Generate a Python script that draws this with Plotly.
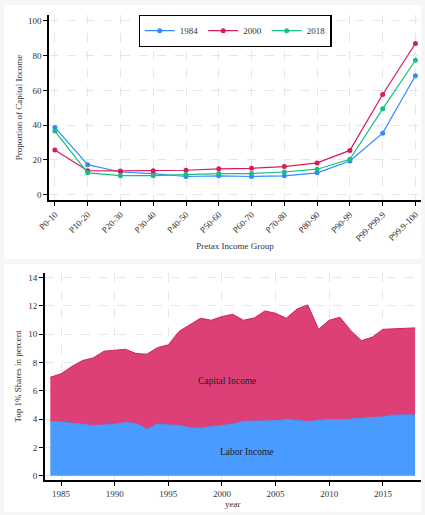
import plotly.graph_objects as go

groups = ["P0-10", "P10-20", "P20-30", "P30-40", "P40-50", "P50-60", "P60-70",
          "P70-80", "P80-90", "P90-99", "P99-P99.9", "P99.9-100"]
share_1984 = [38.7, 17.3, 13.1, 12.2, 10.5, 10.9, 10.5, 10.9, 12.6, 19.4, 35.4, 68.4]
share_2000 = [25.7, 13.8, 13.7, 13.8, 14.1, 14.9, 15.2, 16.2, 18.3, 25.5, 57.6, 86.9]
share_2018 = [36.6, 12.6, 11.0, 11.0, 11.6, 12.2, 12.2, 13.1, 14.7, 20.4, 49.4, 77.3]

years = list(range(1984, 2019))
labor = [3.83, 3.80, 3.71, 3.62, 3.55, 3.59, 3.64, 3.76, 3.69, 3.29, 3.64, 3.59,
         3.55, 3.40, 3.36, 3.47, 3.55, 3.64, 3.85, 3.85, 3.85, 3.88, 3.97, 3.88,
         3.83, 3.90, 3.97, 3.95, 4.02, 4.09, 4.11, 4.16, 4.28, 4.30, 4.30]
capital = [3.13, 3.40, 4.01, 4.52, 4.78, 5.21, 5.23, 5.18, 4.95, 5.30, 5.42, 5.66,
           6.65, 7.24, 7.77, 7.52, 7.70, 7.77, 7.14, 7.30, 7.80, 7.60, 7.16, 7.91,
           8.24, 6.45, 7.02, 7.25, 6.24, 5.46, 5.68, 6.19, 6.10, 6.10, 6.15]

W, H = 425, 515
FONT = "Liberation Serif"
TXT = "#333333"

def fy(px):
    return 1 - px / H

def fx(px):
    return px / W

fig = go.Figure()

line_colors = {"1984": "#2f8cff", "2000": "#d81b5a", "2018": "#16c07f"}
for name, vals in [("1984", share_1984), ("2000", share_2000), ("2018", share_2018)]:
    fig.add_trace(go.Scatter(
        x=list(range(len(groups))), y=vals, name=name, mode="lines+markers",
        line=dict(color=line_colors[name], width=1.2),
        marker=dict(size=5, color=line_colors[name]),
        xaxis="x", yaxis="y"))

fig.add_trace(go.Scatter(
    x=years, y=labor, name="Labor Income", stackgroup="one", mode="lines",
    line=dict(color="#3d95ff", width=1), fillcolor="#4a9bff",
    xaxis="x2", yaxis="y2", showlegend=False))
fig.add_trace(go.Scatter(
    x=years, y=capital, name="Capital Income", stackgroup="one", mode="lines",
    line=dict(color="#d41f5c", width=1), fillcolor="#dc4077",
    xaxis="x2", yaxis="y2", showlegend=False))

axis_common = dict(
    showline=True, linecolor="black", linewidth=1.5, ticks="outside", ticklen=4,
    tickcolor="black", tickfont=dict(family=FONT, size=9, color=TXT),
    showgrid=True, gridcolor="#e6e6e6", griddash="dash", gridwidth=1,
    zeroline=False, mirror=False, automargin=False)

tfont = dict(family=FONT, size=9, color=TXT)

fig.update_layout(
    width=W, height=H,
    margin=dict(l=0, r=0, t=0, b=0),
    paper_bgcolor="#f6f6f6", plot_bgcolor="white",
    font=dict(family=FONT, size=9, color=TXT),
    xaxis=dict(**axis_common, domain=[fx(49), fx(421)], range=[-0.18, 11.17],
               tickmode="array", tickvals=list(range(len(groups))), ticktext=groups,
               tickangle=-45, anchor="y",
               title=dict(text="Pretax Income Group", font=tfont, standoff=0)),
    yaxis=dict(**axis_common, domain=[fy(200), fy(15)], range=[-3.0, 103.3],
               tickvals=[0, 20, 40, 60, 80, 100], anchor="x",
               title=dict(text="Proportion of Capital Income", font=tfont, standoff=4)),
    xaxis2=dict(**axis_common, domain=[fx(44.7), fx(421)], range=[1983.48, 2018.55],
                tickvals=[1985, 1990, 1995, 2000, 2005, 2010, 2015], anchor="y2",
                title=dict(text="year", font=tfont, standoff=0)),
    yaxis2=dict(**axis_common, domain=[fy(480), fy(272.7)], range=[-0.3, 14.35],
                tickvals=[0, 2, 4, 6, 8, 10, 12, 14], anchor="x2",
                title=dict(text="Top 1% Shares in percent", font=tfont, standoff=5)),
    legend=dict(orientation="h", x=fx(235), xanchor="center", y=fy(15), yanchor="top",
                bgcolor="white", bordercolor="black", borderwidth=1.2,
                font=dict(family=FONT, size=9, color=TXT), traceorder="normal",
                itemwidth=30, tracegroupgap=0),
    shapes=[
        dict(type="rect", xref="paper", yref="paper", x0=fx(4), x1=fx(421),
             y0=fy(259), y1=fy(5), fillcolor="white", line=dict(width=0), layer="below"),
        dict(type="rect", xref="paper", yref="paper", x0=fx(4), x1=fx(421),
             y0=fy(512), y1=fy(264), fillcolor="white", line=dict(width=0), layer="below"),
    ],
    annotations=[
        dict(x=2000.5, y=6.7, xref="x2", yref="y2", text="Capital Income", showarrow=False,
             font=dict(family=FONT, size=9.5, color="#222222")),
        dict(x=2002.3, y=1.68, xref="x2", yref="y2", text="Labor Income", showarrow=False,
             font=dict(family=FONT, size=9.5, color="#222222")),
    ],
)

fig.write_html("out.html", config={"displayModeBar": False},
               post_script="document.body.style.margin='0';document.body.style.overflow='hidden';")
